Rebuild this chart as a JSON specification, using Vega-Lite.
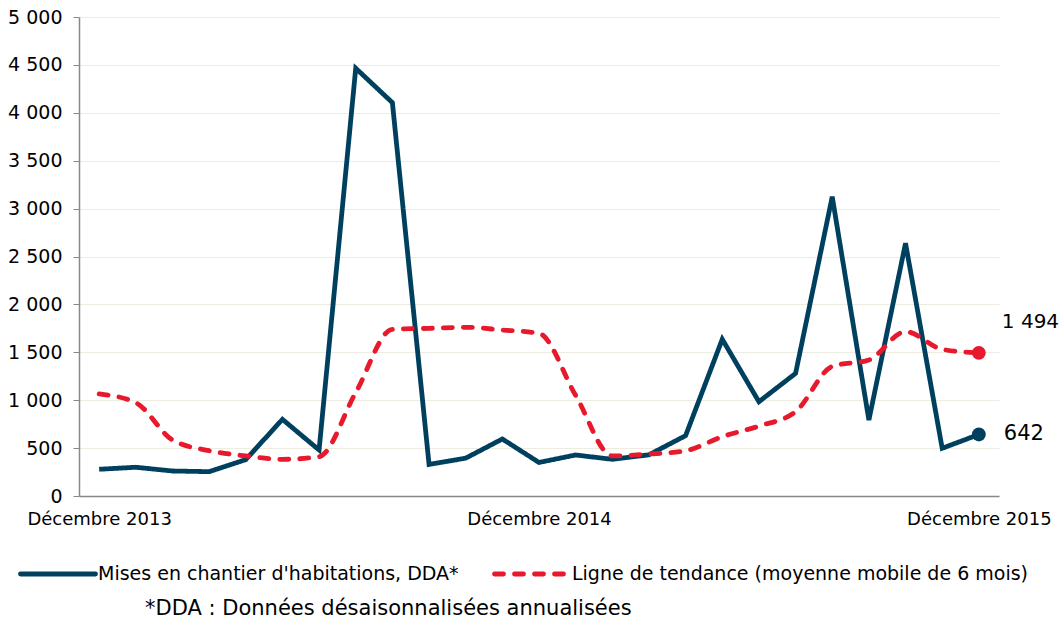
{
  "$schema": "https://vega.github.io/schema/vega-lite/v6.json",
  "width": 920,
  "height": 479,
  "autosize": {"type": "none"},
  "padding": {"left": 79, "top": 17, "right": 65, "bottom": 125},
  "background": "white",
  "config": {
    "view": {"stroke": null},
    "font": "DejaVu Sans",
    "locale": {"number": {"decimal": ",", "thousands": " ", "grouping": [3], "currency": ["", " €"]}}
  },
  "title": {
    "text": "*DDA : Données désaisonnalisées annualisées",
    "orient": "bottom",
    "anchor": "start",
    "frame": "group",
    "dx": 66,
    "offset": 14,
    "fontSize": 21,
    "fontWeight": "normal",
    "font": "DejaVu Sans",
    "color": "black"
  },
  "data": {
    "values": [
      {"mois": "2013-12", "serie": "Mises en chantier d'habitations, DDA*", "valeur": 279},
      {"mois": "2014-01", "serie": "Mises en chantier d'habitations, DDA*", "valeur": 300},
      {"mois": "2014-02", "serie": "Mises en chantier d'habitations, DDA*", "valeur": 261},
      {"mois": "2014-03", "serie": "Mises en chantier d'habitations, DDA*", "valeur": 254},
      {"mois": "2014-04", "serie": "Mises en chantier d'habitations, DDA*", "valeur": 380},
      {"mois": "2014-05", "serie": "Mises en chantier d'habitations, DDA*", "valeur": 800},
      {"mois": "2014-06", "serie": "Mises en chantier d'habitations, DDA*", "valeur": 480},
      {"mois": "2014-07", "serie": "Mises en chantier d'habitations, DDA*", "valeur": 4465},
      {"mois": "2014-08", "serie": "Mises en chantier d'habitations, DDA*", "valeur": 4106},
      {"mois": "2014-09", "serie": "Mises en chantier d'habitations, DDA*", "valeur": 330},
      {"mois": "2014-10", "serie": "Mises en chantier d'habitations, DDA*", "valeur": 395},
      {"mois": "2014-11", "serie": "Mises en chantier d'habitations, DDA*", "valeur": 595},
      {"mois": "2014-12", "serie": "Mises en chantier d'habitations, DDA*", "valeur": 350},
      {"mois": "2015-01", "serie": "Mises en chantier d'habitations, DDA*", "valeur": 428},
      {"mois": "2015-02", "serie": "Mises en chantier d'habitations, DDA*", "valeur": 383},
      {"mois": "2015-03", "serie": "Mises en chantier d'habitations, DDA*", "valeur": 430},
      {"mois": "2015-04", "serie": "Mises en chantier d'habitations, DDA*", "valeur": 630},
      {"mois": "2015-05", "serie": "Mises en chantier d'habitations, DDA*", "valeur": 1636},
      {"mois": "2015-06", "serie": "Mises en chantier d'habitations, DDA*", "valeur": 984},
      {"mois": "2015-07", "serie": "Mises en chantier d'habitations, DDA*", "valeur": 1280},
      {"mois": "2015-08", "serie": "Mises en chantier d'habitations, DDA*", "valeur": 3124},
      {"mois": "2015-09", "serie": "Mises en chantier d'habitations, DDA*", "valeur": 793},
      {"mois": "2015-10", "serie": "Mises en chantier d'habitations, DDA*", "valeur": 2638},
      {"mois": "2015-11", "serie": "Mises en chantier d'habitations, DDA*", "valeur": 498},
      {"mois": "2015-12", "serie": "Mises en chantier d'habitations, DDA*", "valeur": 642},
      {"mois": "2013-12", "serie": "Ligne de tendance (moyenne mobile de 6 mois)", "valeur": 1065},
      {"mois": "2014-01", "serie": "Ligne de tendance (moyenne mobile de 6 mois)", "valeur": 974},
      {"mois": "2014-02", "serie": "Ligne de tendance (moyenne mobile de 6 mois)", "valeur": 585},
      {"mois": "2014-03", "serie": "Ligne de tendance (moyenne mobile de 6 mois)", "valeur": 473},
      {"mois": "2014-04", "serie": "Ligne de tendance (moyenne mobile de 6 mois)", "valeur": 418},
      {"mois": "2014-05", "serie": "Ligne de tendance (moyenne mobile de 6 mois)", "valeur": 383},
      {"mois": "2014-06", "serie": "Ligne de tendance (moyenne mobile de 6 mois)", "valeur": 410},
      {"mois": "2014-07", "serie": "Ligne de tendance (moyenne mobile de 6 mois)", "valeur": 1080},
      {"mois": "2014-08", "serie": "Ligne de tendance (moyenne mobile de 6 mois)", "valeur": 1740},
      {"mois": "2014-09", "serie": "Ligne de tendance (moyenne mobile de 6 mois)", "valeur": 1750},
      {"mois": "2014-10", "serie": "Ligne de tendance (moyenne mobile de 6 mois)", "valeur": 1761},
      {"mois": "2014-11", "serie": "Ligne de tendance (moyenne mobile de 6 mois)", "valeur": 1733},
      {"mois": "2014-12", "serie": "Ligne de tendance (moyenne mobile de 6 mois)", "valeur": 1698},
      {"mois": "2015-01", "serie": "Ligne de tendance (moyenne mobile de 6 mois)", "valeur": 1050},
      {"mois": "2015-02", "serie": "Ligne de tendance (moyenne mobile de 6 mois)", "valeur": 418},
      {"mois": "2015-03", "serie": "Ligne de tendance (moyenne mobile de 6 mois)", "valeur": 438},
      {"mois": "2015-04", "serie": "Ligne de tendance (moyenne mobile de 6 mois)", "valeur": 472},
      {"mois": "2015-05", "serie": "Ligne de tendance (moyenne mobile de 6 mois)", "valeur": 619},
      {"mois": "2015-06", "serie": "Ligne de tendance (moyenne mobile de 6 mois)", "valeur": 730},
      {"mois": "2015-07", "serie": "Ligne de tendance (moyenne mobile de 6 mois)", "valeur": 880},
      {"mois": "2015-08", "serie": "Ligne de tendance (moyenne mobile de 6 mois)", "valeur": 1353},
      {"mois": "2015-09", "serie": "Ligne de tendance (moyenne mobile de 6 mois)", "valeur": 1420},
      {"mois": "2015-10", "serie": "Ligne de tendance (moyenne mobile de 6 mois)", "valeur": 1715},
      {"mois": "2015-11", "serie": "Ligne de tendance (moyenne mobile de 6 mois)", "valeur": 1531},
      {"mois": "2015-12", "serie": "Ligne de tendance (moyenne mobile de 6 mois)", "valeur": 1494}
    ]
  },
  "encoding": {
    "x": {
      "field": "mois",
      "type": "ordinal",
      "scale": {"type": "point", "padding": 0.55},
      "axis": {
        "title": null,
        "labelAngle": 0,
        "labelExpr": "datum.value == '2013-12' ? 'Décembre 2013' : datum.value == '2014-12' ? 'Décembre 2014' : datum.value == '2015-12' ? 'Décembre 2015' : ''",
        "labelFontSize": 18,
        "labelFont": "DejaVu Sans",
        "labelColor": "black",
        "labelPadding": 14,
        "labelOverlap": false,
        "labelBound": false,
        "labelFlush": false,
        "ticks": false,
        "tickSize": 0,
        "grid": false,
        "domainColor": "#888888",
        "domainWidth": 1.5
      }
    },
    "y": {
      "field": "valeur",
      "type": "quantitative",
      "scale": {"domain": [0, 5000], "nice": false},
      "axis": {
        "title": null,
        "values": [0, 500, 1000, 1500, 2000, 2500, 3000, 3500, 4000, 4500, 5000],
        "format": ",.0f",
        "labelFontSize": 19,
        "labelFont": "DejaVu Sans",
        "labelColor": "black",
        "labelPadding": 11,
        "tickSize": 6,
        "tickColor": "#888888",
        "domainColor": "#888888",
        "domainWidth": 1.5,
        "gridColor": "#EEEBE0",
        "gridWidth": 1.2
      }
    }
  },
  "layer": [
    {
      "transform": [{"filter": "datum.serie == \"Mises en chantier d'habitations, DDA*\""}],
      "mark": {"type": "line", "strokeWidth": 4.8, "strokeJoin": "miter"},
      "encoding": {
        "color": {
          "field": "serie",
          "type": "nominal",
          "scale": {
            "domain": ["Mises en chantier d'habitations, DDA*", "Ligne de tendance (moyenne mobile de 6 mois)"],
            "range": ["#00405F", "#E8192C"]
          },
          "legend": {
            "orient": "none",
            "legendX": -61,
            "legendY": 517,
            "direction": "horizontal",
            "title": null,
            "labelFontSize": 19,
            "labelFont": "DejaVu Sans",
            "labelColor": "black",
            "symbolType": "stroke",
            "symbolSize": 5625,
            "symbolStrokeWidth": 4.8,
            "labelOffset": 0,
            "columnPadding": 25,
            "labelLimit": 700,
            "symbolDash": null
          }
        },
        "strokeDash": {
          "field": "serie",
          "type": "nominal",
          "scale": {
            "domain": ["Mises en chantier d'habitations, DDA*", "Ligne de tendance (moyenne mobile de 6 mois)"],
            "range": [[1, 0], [9, 11]]
          },
          "legend": {
            "orient": "none",
            "legendX": -61,
            "legendY": 517,
            "direction": "horizontal",
            "title": null,
            "labelFontSize": 19,
            "labelFont": "DejaVu Sans",
            "labelColor": "black",
            "symbolType": "stroke",
            "symbolSize": 5625,
            "symbolStrokeWidth": 4.8,
            "labelOffset": 0,
            "columnPadding": 25,
            "labelLimit": 700,
            "encode": {"symbols": {"update": {"strokeCap": {"value": "round"}}}}
          }
        }
      }
    },
    {
      "transform": [{"filter": "datum.serie == 'Ligne de tendance (moyenne mobile de 6 mois)'"}],
      "mark": {"type": "line", "strokeWidth": 4.8, "interpolate": "monotone", "strokeCap": "round"},
      "encoding": {
        "color": {"field": "serie", "type": "nominal"},
        "strokeDash": {"field": "serie", "type": "nominal"}
      }
    },
    {
      "transform": [{"filter": "datum.mois == '2015-12'"}],
      "mark": {"type": "circle", "size": 190, "opacity": 1},
      "encoding": {
        "color": {"field": "serie", "type": "nominal"}
      }
    },
    {
      "transform": [{"filter": "datum.mois == '2015-12' && datum.serie == 'Ligne de tendance (moyenne mobile de 6 mois)'"}],
      "mark": {"type": "text", "align": "left", "dx": 23, "dy": -31, "fontSize": 20, "font": "DejaVu Sans", "color": "black"},
      "encoding": {
        "text": {"field": "valeur", "type": "quantitative", "format": ","}
      }
    },
    {
      "transform": [{"filter": "datum.mois == '2015-12' && datum.serie == \"Mises en chantier d'habitations, DDA*\""}],
      "mark": {"type": "text", "align": "left", "dx": 25, "dy": 0, "fontSize": 21, "font": "DejaVu Sans", "color": "black"},
      "encoding": {
        "text": {"field": "valeur", "type": "quantitative", "format": ","}
      }
    }
  ]
}
